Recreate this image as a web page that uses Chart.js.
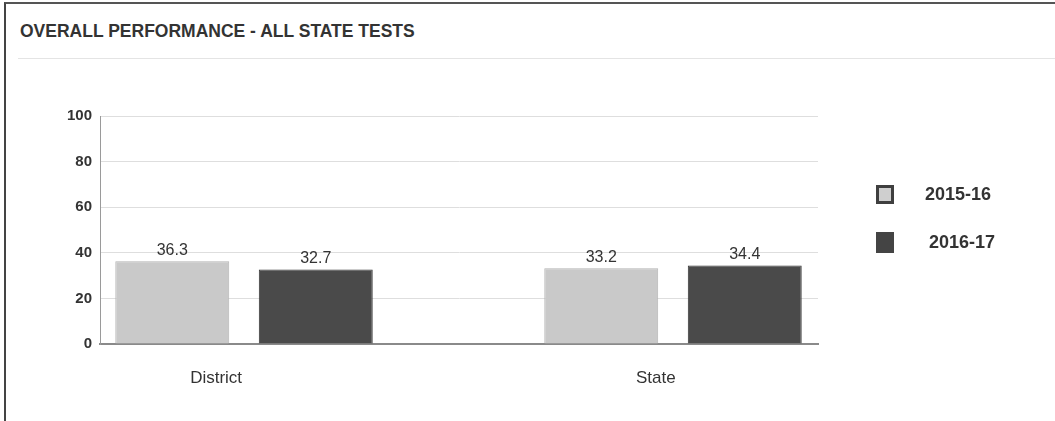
<!DOCTYPE html>
<html>
<head>
<meta charset="utf-8">
<script src="https://cdn.jsdelivr.net/npm/chart.js@4.4.1/dist/chart.umd.min.js"></script>
<style>
  html, body { margin: 0; padding: 0; background: #fff; }
  #wrap { position: relative; width: 1055px; height: 421px; overflow: hidden; font-family: "Liberation Sans", Arial, sans-serif; }
  #frame { position: absolute; left: 4px; top: 2px; right: -5px; bottom: -5px; border-left: 2px solid #444; border-top: 2px solid #555; }
  #title { position: absolute; left: 20px; top: 21px; font-size: 17.5px; font-weight: bold; color: #333; }
  #rule { position: absolute; left: 18px; right: 0; top: 58px; height: 1px; background: #e4e4e4; }
  #c { position: absolute; left: 0; top: 0; }
  #legend { position: absolute; left: 876px; top: 184px; }
  .li { display: flex; align-items: center; height: 20px; margin-bottom: 28px; font-weight: bold; font-size: 18px; color: #333; }
  .sw { width: 18px; height: 19px; box-sizing: border-box; margin-right: 31px; }
</style>
</head>
<body>
<div id="wrap">
  <div id="frame"></div>
  <div id="title">OVERALL PERFORMANCE - ALL STATE TESTS</div>
  <div id="rule"></div>
  <canvas id="c" width="1055" height="421"></canvas>
  <div id="legend"></div>
</div>
<script>
const categories = ["District", "State"];
const seriesNames = ["2015-16", "2016-17"];
const values2015 = [36.3, 33.2];
const values2016 = [32.7, 34.4];
const yTicks = [0, 20, 40, 60, 80, 100];

const fills = ["#c9c9c9", "#4a4a4a"];
const borders = ["#b3b3b3", "#333333"];

const seriesValues = [values2015, values2016];
const datasets = seriesNames.map((name, s) => ({
  label: name,
  data: categories.map((c, i) => ({ x: i, y: seriesValues[s][i] })),
  backgroundColor: fills[s],
  borderColor: borders[s],
  borderWidth: 1,
  categoryPercentage: 0.669,
  barPercentage: 0.794
}));

// HTML legend from the series names
const legendEl = document.getElementById('legend');
seriesNames.forEach((name, s) => {
  const row = document.createElement('div');
  row.className = 'li';
  const sw = document.createElement('span');
  sw.className = 'sw';
  if (s === 0) { sw.style.background = '#cfcfcf'; sw.style.border = '3px solid #3f3f3f'; }
  else { sw.style.background = '#444'; sw.style.height = '21px'; }
  row.appendChild(sw);
  const t = document.createElement('span');
  t.textContent = name;
  if (s === 1) t.style.marginLeft = '4px';
  row.appendChild(t);
  legendEl.appendChild(row);
});

const valueLabels = {
  id: 'valueLabels',
  afterDatasetsDraw(chart) {
    const ctx = chart.ctx;
    ctx.save();
    ctx.font = '16px "Liberation Sans", Arial, sans-serif';
    ctx.fillStyle = '#333';
    ctx.textAlign = 'center';
    ctx.textBaseline = 'bottom';
    chart.data.datasets.forEach((ds, di) => {
      chart.getDatasetMeta(di).data.forEach((bar, i) => {
        ctx.fillText(ds.data[i].y.toFixed(1), bar.x, bar.y - 3);
      });
    });
    ctx.restore();
  }
};

const labelOffsets = [-0.065, 0.96];

new Chart(document.getElementById('c'), {
  type: 'bar',
  data: { datasets },
  options: {
    responsive: false,
    animation: false,
    layout: { padding: { left: 40, right: 237, top: 116, bottom: 27 } },
    plugins: { legend: { display: false }, tooltip: { enabled: false }, title: { display: false } },
    scales: {
      x: {
        type: 'linear',
        offset: false,
        min: -0.3357,
        max: 1.338,
        afterFit(scale) { scale.height = 50; },
        afterBuildTicks(scale) { scale.ticks = labelOffsets.map(v => ({ value: v })); },
        grid: { display: false, drawTicks: false, offset: false },
        border: { display: true, color: '#8a8a8a', width: 2 },
        ticks: {
          autoSkip: false,
          padding: 24,
          color: '#333',
          font: { family: '"Liberation Sans", Arial, sans-serif', size: 17 },
          callback: (v, i) => categories[i]
        }
      },
      y: {
        min: 0,
        max: 100,
        afterFit(scale) { scale.width = 60; },
        afterBuildTicks(scale) { scale.ticks = yTicks.map(v => ({ value: v })); },
        grid: { color: '#dedede', drawTicks: false },
        border: { display: true, color: '#9a9a9a', width: 1 },
        ticks: {
          padding: 8,
          color: '#333',
          font: { family: '"Liberation Sans", Arial, sans-serif', size: 15, weight: 'bold' }
        }
      }
    }
  },
  plugins: [valueLabels]
});
</script>
</body>
</html>
